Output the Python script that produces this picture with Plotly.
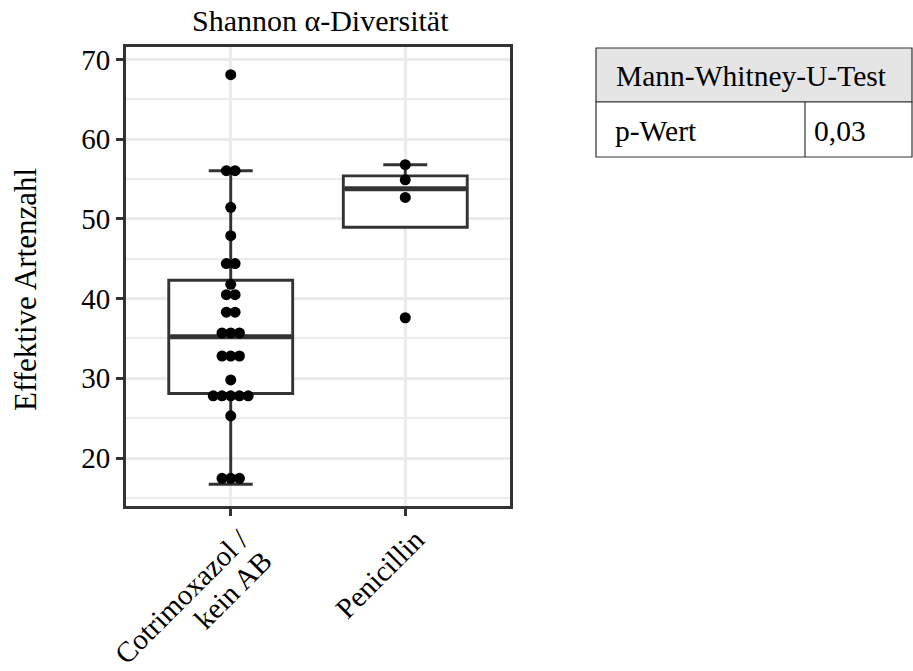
import plotly.graph_objects as go

# ---- data -------------------------------------------------------------
group_pos = [1, 2]
group_label_lines = [["Cotrimoxazol /", "kein AB"], ["Penicillin"]]

# binned Shannon effective species numbers (dotplot bins) and how many samples fall in each bin
cotri_bins = [17.45, 25.3, 27.8, 29.8, 32.8, 35.7, 38.3, 40.5, 41.8, 44.4, 47.9, 51.45, 56.05, 68.1]
cotri_counts = [3, 1, 5, 1, 3, 3, 2, 2, 1, 2, 1, 1, 2, 1]
peni_bins = [37.6, 52.7, 54.9, 56.8]
peni_counts = [1, 1, 1, 1]

# boxplot summary statistics per group
box_q1 = [28.1, 48.95]
box_median = [35.2, 53.8]
box_q3 = [42.3, 55.4]
box_lower = [16.7, 48.95]
box_upper = [56.05, 56.8]

test_name = "Mann-Whitney-U-Test"
p_label = "p-Wert"
p_value = "0,03"

# ---- styling ----------------------------------------------------------
FONT = "Liberation Serif"
DARK = "#333333"
GRID = "#EBEBEB"
W, H = 913, 671
L, R, T, B = 126, 510, 47, 506          # panel edges in pixels
BOX_W = 0.71
DOT_STEP = 0.05
DOT_SIZE = 11
TICK_FS = 29
LINE_GAP = 22                            # per-line offset of rotated labels (px, both axes)


def px_x(px):
    return (px - L) / (R - L)


def px_y(py):
    return (B - py) / (B - T)


fig = go.Figure()

# boxes (precomputed statistics)
fig.add_trace(go.Box(
    x=group_pos, q1=box_q1, median=box_median, q3=box_q3,
    lowerfence=box_lower, upperfence=box_upper,
    width=BOX_W, whiskerwidth=0.355, boxpoints=False,
    fillcolor="white", line=dict(color=DARK, width=2.9),
    showlegend=False, hoverinfo="skip",
))

# thicker median bars
for pos, med in zip(group_pos, box_median):
    fig.add_trace(go.Scatter(
        x=[pos - BOX_W / 2 + 0.008, pos + BOX_W / 2 - 0.008], y=[med, med],
        mode="lines", line=dict(color=DARK, width=5),
        showlegend=False, hoverinfo="skip",
    ))


def stacked(pos, bins, counts):
    xs, ys = [], []
    for v, n in zip(bins, counts):
        for i in range(n):
            xs.append(pos + (i - (n - 1) / 2) * DOT_STEP)
            ys.append(v)
    return xs, ys


for pos, bins, counts in [(1, cotri_bins, cotri_counts), (2, peni_bins, peni_counts)]:
    xs, ys = stacked(pos, bins, counts)
    fig.add_trace(go.Scatter(
        x=xs, y=ys, mode="markers",
        marker=dict(color="black", size=DOT_SIZE, line=dict(width=0)),
        showlegend=False,
    ))

# ---- table with the test result ------------------------------------------
tx0, tx1, tdiv = px_x(596), px_x(912), px_x(805)
ty0, ty1, ty2 = px_y(48), px_y(102), px_y(157)
shapes = [
    dict(type="rect", xref="paper", yref="paper", x0=tx0, x1=tx1, y0=ty1, y1=ty0,
         fillcolor="#E5E5E5", line=dict(color=DARK, width=1.2), layer="above"),
    dict(type="rect", xref="paper", yref="paper", x0=tx0, x1=tx1, y0=ty2, y1=ty1,
         fillcolor="white", line=dict(color=DARK, width=1.2), layer="above"),
    dict(type="line", xref="paper", yref="paper", x0=tdiv, x1=tdiv, y0=ty2, y1=ty1,
         line=dict(color=DARK, width=1.2), layer="above"),
]

annotations = [
    dict(text=test_name, xref="paper", yref="paper", x=px_x(614), y=px_y(76),
         xanchor="left", yanchor="middle", showarrow=False,
         font=dict(family=FONT, size=29.5, color="black")),
    dict(text=p_label, xref="paper", yref="paper", x=px_x(613), y=px_y(131),
         xanchor="left", yanchor="middle", showarrow=False,
         font=dict(family=FONT, size=29.5, color="black")),
    dict(text=p_value, xref="paper", yref="paper", x=px_x(812), y=px_y(131),
         xanchor="left", yanchor="middle", showarrow=False,
         font=dict(family=FONT, size=29.5, color="black")),
    # panel title
    dict(text="Shannon α-Diversität", xref="paper", yref="paper", x=px_x(320), y=px_y(21),
         xanchor="center", yanchor="middle", showarrow=False,
         font=dict(family=FONT, size=30, color="black")),
    # y axis title
    dict(text="Effektive Artenzahl", xref="paper", yref="paper", x=px_x(25), y=px_y(290),
         xanchor="center", yanchor="middle", textangle=-90, showarrow=False,
         font=dict(family=FONT, size=31, color="black")),
]

# rotated category labels, right-aligned lines ending just right of each tick
for pos, lines in zip(group_pos, group_label_lines):
    for i, line in enumerate(lines):
        annotations.append(dict(
            text=line, xref="x", yref="paper", x=pos, y=0,
            xanchor="right", yanchor="top", textangle=-45, showarrow=False,
            xshift=28 + i * LINE_GAP, yshift=-14 - i * LINE_GAP,
            font=dict(family=FONT, size=TICK_FS, color="black"),
        ))

fig.update_layout(
    width=W, height=H,
    margin=dict(l=L, r=W - R, t=T, b=H - B, pad=0, autoexpand=False),
    paper_bgcolor="white", plot_bgcolor="white",
    shapes=shapes, annotations=annotations,
    font=dict(family=FONT, color="black"),
)

fig.update_xaxes(
    range=[0.4, 2.6], tickvals=group_pos, showticklabels=False, automargin=False,
    showgrid=True, gridcolor=GRID, gridwidth=2.5, zeroline=False,
    showline=True, mirror=True, linecolor=DARK, linewidth=2.7,
    ticks="outside", ticklen=7, tickwidth=2.7, tickcolor=DARK,
)
fig.update_yaxes(
    range=[13.98, 71.57], tickvals=[20, 30, 40, 50, 60, 70],
    tickfont=dict(family=FONT, size=TICK_FS, color="black"), automargin=False,
    showgrid=True, gridcolor=GRID, gridwidth=2.5, zeroline=False,
    minor=dict(tick0=15, dtick=10, showgrid=True, gridcolor=GRID, gridwidth=1.6, ticks=""),
    showline=True, mirror=True, linecolor=DARK, linewidth=2.7,
    ticks="outside", ticklen=7, tickwidth=2.7, tickcolor=DARK,
)

fig.write_html("out.html")
